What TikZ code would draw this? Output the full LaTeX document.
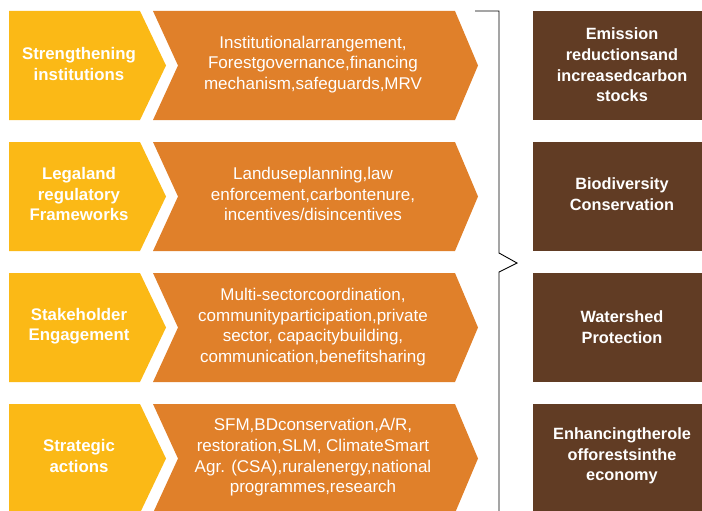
\documentclass[tikz,border=0pt]{standalone}
\usepackage{fontspec}
\setmainfont{Liberation Sans}

\definecolor{stepyellow}{RGB}{251,185,22}
\definecolor{steporange}{RGB}{224,128,42}
\definecolor{stepbrown}{RGB}{97,60,36}

\tikzset{
    ylab/.style={text=white, align=center, font=\fontsize{16.8}{20.5}\selectfont\bfseries},
    olab/.style={text=white, align=center, font=\fontsize{17}{20.6}\selectfont},
    blab/.style={text=white, align=center, font=\fontsize{16.3}{20.7}\selectfont\bfseries}
}

\begin{document}
\begin{tikzpicture}[x=1pt,y=-1pt]
    % Page frame (pixel units, y downwards)
    \clip (0,0) rectangle (702,511);

    % Row shapes
    \foreach \t in {11,142,273,404}{
        \fill[stepyellow] (9,\t) -- (140,\t) -- (166,\t+54.5) -- (140,\t+109) -- (9,\t+109) -- cycle;
        \fill[steporange] (153,\t) -- (455,\t) -- (478,\t+54.5) -- (455,\t+109) -- (153,\t+109) -- (178,\t+54.5) -- cycle;
        \fill[stepbrown] (533,\t) rectangle (712,\t+109);
    }

    % Brace
    \coordinate (btop) at (475,11);
    \coordinate (btip) at (517,263);
    \draw[line width=0.9pt] (btop) -- (499,11) -- (499,253) -- (btip) -- (499,272) -- (499,520);

    % Left labels
    \node[ylab] (inst) at (79,64) {Strengthening\\institutions};
    \node[ylab] (legal) at (79,194) {Legaland\\regulatory\\Frameworks};
    \node[ylab] (stake) at (79,326) {Stakeholder\\Engagement};
    \node[ylab] (strat) at (79,456) {Strategic\\actions};

    % Middle labels
    \node[olab] (instd) at (313,64.5) {Institutionalarrangement,\\Forestgovernance,financing\\mechanism,safeguards,MRV};
    \node[olab] (legald) at (313,194) {Landuseplanning,law\\enforcement,carbontenure,\\incentives/disincentives};
    \node[olab] (staked) at (313,327) {Multi-sectorcoordination,\\communityparticipation,private\\sector, capacitybuilding,\\communication,benefitsharing};
    \node[olab] (stratd) at (313,457.5) {SFM,BDconservation,A/R,\\restoration,SLM, ClimateSmart\\Agr. (CSA),ruralenergy,national\\programmes,research};

    % Outcomes
    \node[blab] (emis) at (622,65) {Emission\\reductionsand\\increasedcarbon\\stocks};
    \node[blab] (biod) at (622,194) {Biodiversity\\Conservation};
    \node[blab] (water) at (622,327) {Watershed\\Protection};
    \node[blab] (econ) at (622,456) {Enhancingtherole\\offorestsinthe\\economy};
\end{tikzpicture}
\end{document}
